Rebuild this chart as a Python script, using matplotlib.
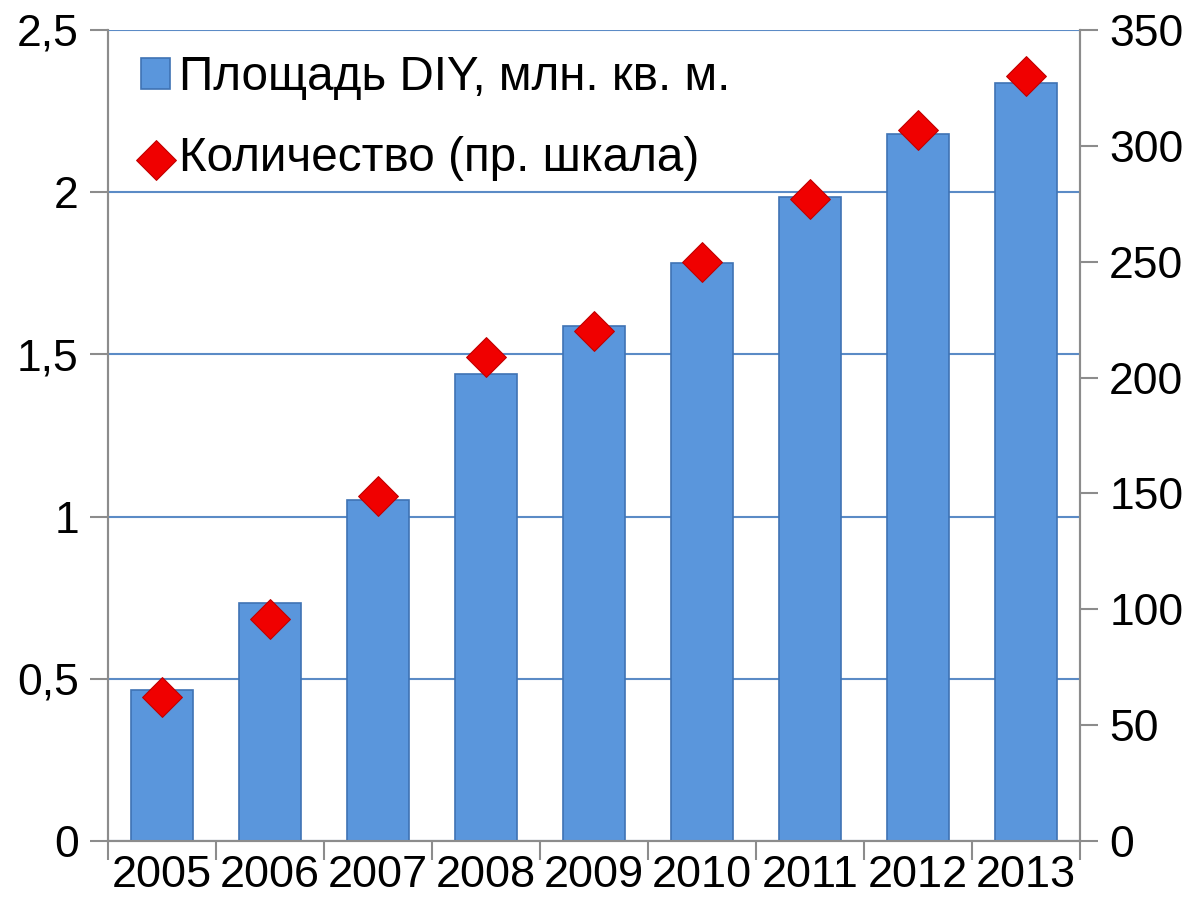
import matplotlib
matplotlib.use("Agg")
import matplotlib.pyplot as plt
from matplotlib.ticker import FixedLocator, FuncFormatter

plt.rcParams["font.family"] = ["Liberation Sans", "DejaVu Sans"]

years = ["2005", "2006", "2007", "2008", "2009", "2010", "2011", "2012", "2013"]
area = [0.465, 0.734, 1.051, 1.44, 1.588, 1.782, 1.985, 2.18, 2.337]
count = [62, 96, 149, 209, 220, 250, 277, 307, 330]

BAR = "#5A96DC"
EDGE = "#3F73B4"
GRID = "#5B8BC6"
SPINE = "#8C8C8C"

fig = plt.figure(figsize=(11.9, 9.01), dpi=100)
ax = fig.add_axes([108 / 1190, 1 - 841 / 901, 972 / 1190, 811 / 901])
ax2 = ax.twinx()

x = list(range(len(years)))
ax.bar(x, area, width=0.58, color=BAR, edgecolor=EDGE, linewidth=1.2, zorder=3,
       label="Площадь DIY, млн. кв. м.")
ax2.scatter(x, count, marker="D", s=410, color="#F00000", edgecolor="#C00000",
            linewidth=0.8, zorder=4, label="Количество (пр. шкала)")

ax.set_xlim(-0.5, len(years) - 0.5)
ax.set_ylim(0, 2.5)
ax2.set_ylim(0, 350)

ax.set_yticks([0, 0.5, 1, 1.5, 2, 2.5])
ax.yaxis.set_major_formatter(FuncFormatter(lambda v, p: f"{v:g}".replace(".", ",")))
ax2.set_yticks(range(0, 351, 50))
ax.grid(axis="y", color=GRID, lw=1.5, zorder=0)

ax.set_xticks(x)
ax.set_xticklabels(years)
ax.xaxis.set_minor_locator(FixedLocator([i + 0.5 for i in range(-1, len(years))]))
ax.tick_params(axis="x", which="major", length=0, pad=10, labelsize=32.5)
ax.tick_params(axis="x", which="minor", length=14, width=1.5, color=SPINE)
ax.tick_params(axis="y", length=13, width=1.5, color=SPINE, labelsize=32, pad=8)
ax2.tick_params(axis="y", length=13, width=1.5, color=SPINE, labelsize=32, pad=8)

for a in (ax, ax2):
    for s in a.spines.values():
        s.set_color(SPINE)
        s.set_linewidth(1.5)
    a.spines["top"].set_visible(False)

ax.set_zorder(ax2.get_zorder() - 1)
ax2.patch.set_visible(False)

h1, l1 = ax.get_legend_handles_labels()
h2, l2 = ax2.get_legend_handles_labels()
ax.legend(h1 + h2, l1 + l2, loc="upper left", bbox_to_anchor=(0.0, 1.01),
          frameon=False, fontsize=34.3, handlelength=0.6, handleheight=0.6,
          handletextpad=0.2, labelspacing=0.75, borderaxespad=0.3)
leg = ax.get_legend()
leg.set_zorder(10)

fig.savefig("out.png", dpi=100)
